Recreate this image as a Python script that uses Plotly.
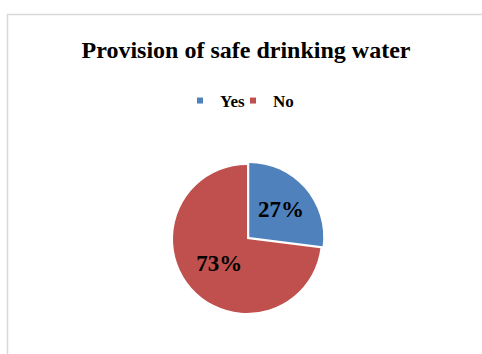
import plotly.graph_objects as go

categories = ["Yes", "No"]
values = [27, 73]
colors = ["#4F81BD", "#C0504D"]
title_text = "Provision of safe drinking water"

W, H = 482, 354
FONT = "Liberation Serif"

# pie geometry (pixels)
cx, cy, r = 247, 239, 74
pull = 0.04
rd = r * (1 + pull)

fig = go.Figure()
fig.add_trace(go.Pie(
    labels=categories, values=values, sort=False, direction="clockwise",
    rotation=0, pull=[pull, 0],
    marker=dict(colors=colors, line=dict(width=0)),
    texttemplate="%{percent:.0%}", textposition="inside",
    insidetextorientation="horizontal",
    textfont=dict(family=FONT, size=23, color="black", weight="bold"),
    showlegend=False, hoverinfo="label+percent",
    domain=dict(x=[(cx - rd) / W, (cx + rd) / W],
                y=[(H - cy - rd) / H, (H - cy + rd) / H]),
))
legend_names = ["legend", "legend2"]
text_left = [220, 273]
for c, col, lg in zip(categories, colors, legend_names):
    fig.add_trace(go.Scatter(x=[None], y=[None], mode="markers", name=c,
                             legend=lg,
                             marker=dict(symbol="square", size=6, color=col)))

leg_common = dict(orientation="h", yanchor="middle", y=1 - 101 / H,
                  xanchor="left",
                  font=dict(family=FONT, size=17, color="black", weight="bold"),
                  itemwidth=30, bgcolor="rgba(0,0,0,0)")

fig.update_layout(
    width=W, height=H,
    margin=dict(l=0, r=0, t=0, b=0),
    paper_bgcolor="white", plot_bgcolor="white",
    xaxis=dict(visible=False), yaxis=dict(visible=False),
    title=dict(text=title_text, x=246 / W, xanchor="center",
               y=1 - 50 / H, yanchor="middle",
               font=dict(family=FONT, size=24, color="black", weight="bold")),
    legend=dict(x=(text_left[0] - 40) / W, **leg_common),
    legend2=dict(x=(text_left[1] - 40) / W, **leg_common),
    shapes=[dict(type="rect", xref="paper", yref="paper",
                 x0=7.5 / W, x1=1.05, y0=-0.05, y1=1 - 14.5 / H,
                 line=dict(color="#D9D9D9", width=1.5), fillcolor="rgba(0,0,0,0)",
                 layer="below")],
)

fig.write_html("out.html")
